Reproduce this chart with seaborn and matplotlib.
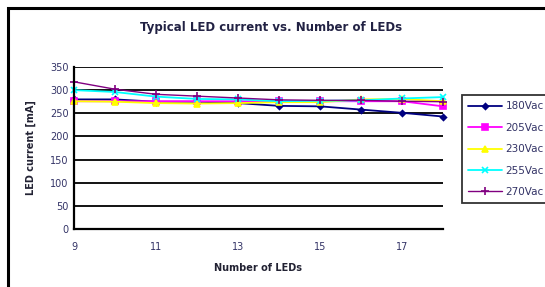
import numpy as np
import pandas as pd
import matplotlib
matplotlib.use("Agg")
import matplotlib.pyplot as plt
from matplotlib.patches import Rectangle
from matplotlib.lines import Line2D
import seaborn as sns

num_leds = [9, 10, 11, 12, 13, 14, 15, 16, 17, 18]
v180 = [280, 280, 275, 275, 272, 266, 265, 258, 251, 243]
v205 = [276, 276, 276, 276, 276, 276, 276, 276, 276, 265]
v230 = [276, 275, 272, 271, 272, 274, 274, 280, 281, 276]
v255 = [300, 296, 286, 281, 280, 276, 277, 278, 282, 285]
v270 = [318, 302, 291, 287, 283, 279, 278, 278, 276, 275]
series_names = ["180Vac", "205Vac", "230Vac", "255Vac", "270Vac"]
series_vals = [v180, v205, v230, v255, v270]

sns.set_theme(style="white")
plt.rcParams['font.family'] = ['DejaVu Sans']

colors = ["#000080", "#FF00FF", "#FFFF00", "#00FFFF", "#800080"]
markers = ["D", "s", "^", "x", "+"]
msizes = [3, 4, 4, 4.5, 6]
lwidths = [1.3, 1.3, 1.3, 1.3, 1.0]

fig = plt.figure(figsize=(5.45, 2.87), dpi=100)
ax = fig.add_axes([74/545, 1-229/287, (443-74)/545, (229-67)/287])

for name, vals, c, m, ms, lw in zip(series_names, series_vals, colors, markers, msizes, lwidths):
    d = pd.DataFrame({"Number of LEDs": num_leds, "LED current [mA]": vals})
    sns.lineplot(data=d, x="Number of LEDs", y="LED current [mA]", color=c,
                 marker=m, markersize=ms, markeredgecolor=c, markeredgewidth=1.2,
                 linewidth=lw, ax=ax, legend=False, clip_on=False)

ax.set_xlim(9, 18)
ax.set_ylim(0, 350)
ax.set_xticks([9, 11, 13, 15, 17])
ax.set_yticks(np.arange(0, 351, 50))
ax.yaxis.grid(True, color="black", linewidth=1.3)
ax.set_axisbelow(True)
for s in ["top", "right"]:
    ax.spines[s].set_visible(False)
for s in ["left", "bottom"]:
    ax.spines[s].set_color("black")
    ax.spines[s].set_linewidth(1.6)
ax.tick_params(axis="both", which="major", length=3, width=1.2, color="black",
               direction="out", labelsize=7, labelcolor="#333366", pad=3)
ax.tick_params(axis="y", pad=1)
ax.tick_params(axis="x", pad=6)
ax.set_xlabel("Number of LEDs", fontsize=7, fontweight="bold", color="#222233", labelpad=8)
ax.set_ylabel("LED current [mA]", fontsize=7, fontweight="bold", color="#222233", labelpad=10)
fig.text(0.497, 1-28/287, "Typical LED current vs. Number of LEDs", ha="center", va="center",
         fontsize=8.5, fontweight="bold", color="#222244")

handles = [Line2D([0], [0], color=c, marker=m, markersize=ms, markeredgecolor=c,
                  linewidth=lw, markeredgewidth=1.2)
           for c, m, ms, lw in zip(colors, markers, msizes, lwidths)]
leg = fig.legend(handles, series_names, loc="upper left", bbox_to_anchor=(462/545, 1-95/287),
                 frameon=True, fontsize=7.5, handlelength=3.2, handletextpad=0.4,
                 labelspacing=1.1, borderpad=0.6, borderaxespad=0, fancybox=False)
leg.get_frame().set_edgecolor("black")
leg.get_frame().set_linewidth(1.3)
for t in leg.get_texts():
    t.set_color("#333366")

fig.patches.append(Rectangle((8/545, -0.2), 1.2, 1-8/287+0.2, transform=fig.transFigure,
                             fill=False, edgecolor="black", linewidth=2.2))

fig.savefig("out.png", dpi=100)
